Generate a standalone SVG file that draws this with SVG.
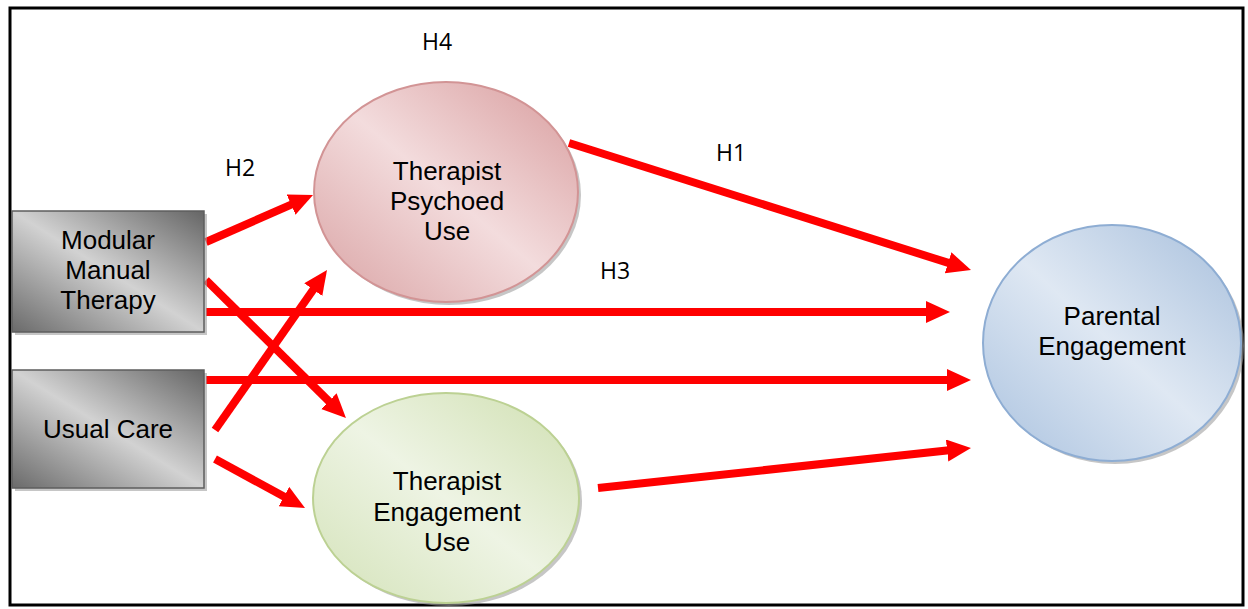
<svg xmlns="http://www.w3.org/2000/svg" width="1248" height="609" viewBox="0 0 1248 609">
<defs>
<linearGradient id="gGray" x1="0" y1="1" x2="1" y2="0">
<stop offset="0" stop-color="#6a6a6a"/><stop offset="0.5" stop-color="#d2d2d2"/><stop offset="1" stop-color="#656565"/>
</linearGradient>
<linearGradient id="gRed" x1="0" y1="1" x2="1" y2="0">
<stop offset="0" stop-color="#d9a2a3"/><stop offset="0.5" stop-color="#f3dcdd"/><stop offset="1" stop-color="#d89c9d"/>
</linearGradient>
<linearGradient id="gGreen" x1="0" y1="1" x2="1" y2="0">
<stop offset="0" stop-color="#d3e2b8"/><stop offset="0.5" stop-color="#eef4e4"/><stop offset="1" stop-color="#cfdfb0"/>
</linearGradient>
<linearGradient id="gBlue" x1="0" y1="1" x2="1" y2="0">
<stop offset="0" stop-color="#aac2df"/><stop offset="0.5" stop-color="#dfe8f3"/><stop offset="1" stop-color="#a7bfdc"/>
</linearGradient>
<marker id="ah" markerUnits="userSpaceOnUse" markerWidth="26" markerHeight="24" refX="2" refY="11" orient="auto">
<path d="M0,0 L24,11 L0,22 Z" fill="#ff0000"/>
</marker>
</defs>
<style>
.lbl{font-family:"Liberation Sans",Arial,sans-serif;font-size:26px;fill:#000;text-anchor:middle}
.h{font-family:"Open Sans","Liberation Sans",sans-serif;font-size:23px;fill:#000;text-anchor:middle}
.arr{stroke:#ff0000;stroke-width:8;fill:none;marker-end:url(#ah)}
.shadow{fill:#a0a0a0;opacity:0.6}
</style>
<rect x="10" y="8" width="1233" height="597" fill="#fff" stroke="#000" stroke-width="3"/>

<g id="connectors">
<line class="arr" x1="206" y1="242" x2="292.9" y2="203.8"/>
<line class="arr" x1="206" y1="280" x2="330.3" y2="402.6"/>
<line class="arr" x1="215" y1="430" x2="314.4" y2="288"/>
<line class="arr" x1="206" y1="312" x2="928" y2="312"/>
<line class="arr" x1="206" y1="380" x2="949" y2="380"/>
<line class="arr" x1="215" y1="459" x2="285.7" y2="497.5"/>
<line class="arr" x1="569" y1="143" x2="950" y2="263.4"/>
<line class="arr" x1="598" y1="488" x2="949.1" y2="450.3"/>
</g>

<g id="node-modular">
<rect class="shadow" x="15" y="214" width="192" height="121"/>
<rect x="12" y="211" width="192" height="121" fill="url(#gGray)" stroke="#5e5e5e" stroke-width="1.5"/>
<text class="lbl" x="108" y="249">Modular</text>
<text class="lbl" x="108" y="279">Manual</text>
<text class="lbl" x="108" y="309">Therapy</text>
</g>

<g id="node-usual">
<rect class="shadow" x="15" y="373" width="192" height="118"/>
<rect x="12" y="370" width="192" height="118" fill="url(#gGray)" stroke="#5e5e5e" stroke-width="1.5"/>
<text class="lbl" x="108" y="438">Usual Care</text>
</g>

<g id="node-psychoed">
<ellipse class="shadow" cx="449" cy="195" rx="132" ry="110"/>
<ellipse cx="446" cy="192" rx="132" ry="110" fill="url(#gRed)" stroke="#d29495" stroke-width="2"/>
<text class="lbl" x="447" y="180">Therapist</text>
<text class="lbl" x="447" y="210">Psychoed</text>
<text class="lbl" x="447" y="240">Use</text>
</g>

<g id="node-engagement">
<ellipse class="shadow" cx="449" cy="501" rx="133" ry="105"/>
<ellipse cx="446" cy="498" rx="133" ry="105" fill="url(#gGreen)" stroke="#bcd193" stroke-width="2"/>
<text class="lbl" x="447" y="490">Therapist</text>
<text class="lbl" x="447" y="521">Engagement</text>
<text class="lbl" x="447" y="551">Use</text>
</g>

<g id="node-parental">
<ellipse class="shadow" cx="1115" cy="346" rx="129" ry="118"/>
<ellipse cx="1112" cy="343" rx="129" ry="118" fill="url(#gBlue)" stroke="#8eadd3" stroke-width="2"/>
<text class="lbl" x="1112" y="325">Parental</text>
<text class="lbl" x="1112" y="355">Engagement</text>
</g>

<g id="labels">
<text class="h" x="437" y="50">H4</text>
<text class="h" x="240" y="176">H2</text>
<text class="h" x="731" y="161">H1</text>
<text class="h" x="615" y="279">H3</text>
</g>
</svg>
